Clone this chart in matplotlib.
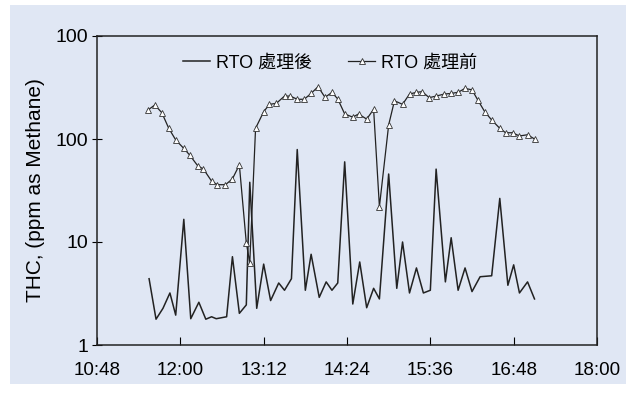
import matplotlib
matplotlib.use("Agg")
import matplotlib.pyplot as plt
from matplotlib.patches import Rectangle

plt.rcParams["font.family"] = ["Liberation Sans", "Noto Sans CJK TC", "DejaVu Sans"]

# RTO inlet (before treatment), ppm as methane
before_times = ["11:32", "11:38", "11:44", "11:50", "11:56", "12:03", "12:08", "12:15",
                "12:20", "12:27", "12:32", "12:39", "12:45", "12:51", "12:57", "13:00",
                "13:05", "13:12", "13:17", "13:23", "13:30", "13:35", "13:41", "13:47",
                "13:53", "13:59", "14:05", "14:11", "14:16", "14:22", "14:29", "14:34",
                "14:41", "14:47", "14:52", "15:00", "15:05", "15:12", "15:18", "15:24",
                "15:29", "15:35", "15:41", "15:48", "15:54", "16:00", "16:06", "16:12",
                "16:17", "16:23", "16:29", "16:36", "16:41", "16:47", "16:53", "17:00",
                "17:06"]
before_vals = [191, 214, 180, 127, 98, 81, 70, 55,
               51, 39, 36, 36, 41, 56, 9.8, 6.3,
               127, 184, 217, 222, 261, 261, 243, 243,
               277, 322, 254, 283, 245, 175, 163, 175,
               156, 194, 22, 137, 235, 217, 273, 284,
               288, 252, 261, 273, 277, 284, 310, 300,
               239, 184, 153, 127, 115, 115, 107, 110,
               100]

# RTO outlet (after treatment)
after_times = ["11:33", "11:39", "11:45", "11:51", "11:56", "12:03", "12:09", "12:16",
               "12:22", "12:27", "12:31", "12:40", "12:45", "12:51", "12:57", "13:00",
               "13:06", "13:12", "13:18", "13:25", "13:30", "13:36", "13:41", "13:48",
               "13:53", "14:00", "14:06", "14:11", "14:16", "14:22", "14:29", "14:35",
               "14:41", "14:47", "14:52", "15:00", "15:07", "15:12", "15:18", "15:24",
               "15:30", "15:36", "15:41", "15:49", "15:54", "16:00", "16:06", "16:12",
               "16:19", "16:29", "16:36", "16:43", "16:48", "16:53", "17:00", "17:06"]
after_vals = [4.4, 1.78, 2.27, 3.2, 1.95, 16.6, 1.8, 2.6,
              1.78, 1.88, 1.8, 1.88, 7.2, 2.03, 2.45, 38,
              2.27, 6.1, 2.7, 4.0, 3.4, 4.4, 79, 3.4,
              7.6, 2.9, 4.1, 3.4, 4.0, 60, 2.5, 6.4,
              2.3, 3.55, 2.8, 45.7, 3.55, 10, 3.2, 5.6,
              3.2, 3.4, 51, 4.1, 11, 3.4, 5.6, 3.3,
              4.6, 4.7, 26.5, 3.8, 6.0, 3.2, 4.1, 2.8]

tick_labels = ["10:48", "12:00", "13:12", "14:24", "15:36", "16:48", "18:00"]
y_ticks = [1, 10, 100, 1000]
y_labels = ["1", "10", "100", "100"]


def to_min(s):
    h, m = s.split(":")
    return int(h) * 60 + int(m)


bg = "#e0e7f4"
fig = plt.figure(figsize=(6.32, 3.93), dpi=100, facecolor="white")
# light blue panel behind the whole chart
fig.patches.append(Rectangle((10 / 632, 9 / 393), 616 / 632, 379 / 393,
                             transform=fig.transFigure, facecolor=bg,
                             edgecolor="none", zorder=-10))

ax = fig.add_axes([97 / 632, 48 / 393, 500 / 632, 309 / 393])
ax.set_facecolor(bg)

ax.plot([to_min(t) for t in after_times], after_vals, color="#222222", lw=1.1,
        label="RTO 處理後")
ax.plot([to_min(t) for t in before_times], before_vals, color="#222222", lw=0.9,
        marker="^", markersize=5, markerfacecolor="white", markeredgecolor="#333333",
        markeredgewidth=0.6, label="RTO 處理前")

ax.set_yscale("log")
ax.set_ylim(1, 1000)
ax.set_yticks(y_ticks)
ax.set_yticklabels(y_labels)
ax.minorticks_off()

xt = [to_min(t) for t in tick_labels]
ax.set_xlim(xt[0], xt[-1])
ax.set_xticks(xt)
ax.set_xticklabels(tick_labels)

ax.tick_params(axis="x", direction="in", length=6, width=0.8, pad=12, labelsize=13.5)
ax.tick_params(axis="y", direction="inout", length=6.5, width=0.8, pad=3, labelsize=14)
for s in ax.spines.values():
    s.set_linewidth(1.1)
    s.set_color("#222222")

ax.set_ylabel("THC, (ppm as Methane)", fontsize=15, labelpad=8)

ax.legend(loc="center", bbox_to_anchor=(0.466, 0.913), ncol=2, frameon=False,
          fontsize=13, handlelength=1.5, handletextpad=0.3, columnspacing=2.0)

fig.savefig("out.png", dpi=100, facecolor="white")
